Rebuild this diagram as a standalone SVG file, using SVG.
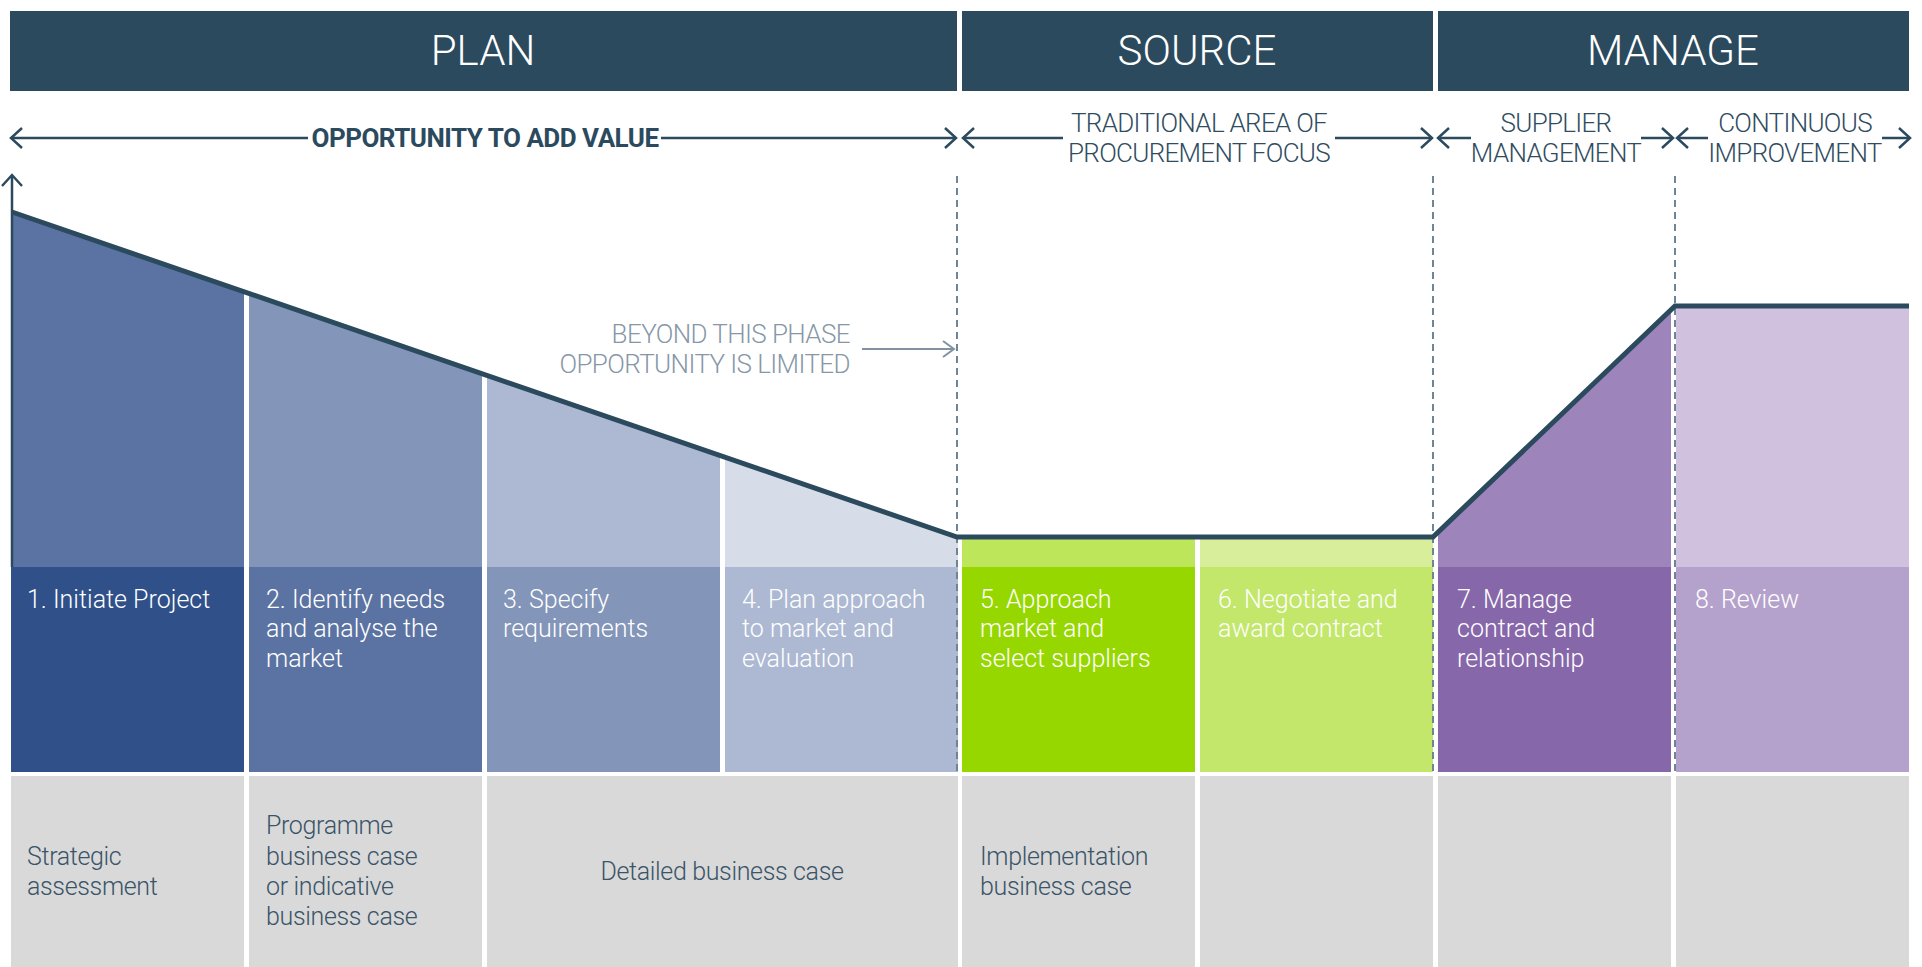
<svg xmlns="http://www.w3.org/2000/svg" width="1922" height="967" viewBox="0 0 1922 967">
<defs>
<style>
text{font-family:Roboto,"Liberation Sans",sans-serif;font-weight:300}
.banner{fill:#2b4a5e}
.bt{fill:#fff;font-size:42px;text-anchor:middle}
.lab{fill:#2f4c60;font-size:26px;text-anchor:middle;letter-spacing:-0.7px}
.labb{fill:#2b4a5e;font-size:26px;text-anchor:middle;font-weight:700;letter-spacing:-0.5px}
.step{fill:#fff;font-size:25px;letter-spacing:0px}
.case{fill:#3a5468;font-size:25px;letter-spacing:-0.35px}
.grey{fill:#d9d9d9}
.note{fill:#8797a7;font-size:26px;text-anchor:end;letter-spacing:-0.6px}
.ar{fill:none;stroke:#2b4a5e;stroke-width:2.5}
.dash{fill:none;stroke:#6f8596;stroke-width:2;stroke-dasharray:7 5}
.curve{fill:none;stroke:#2b4a5e;stroke-width:5;stroke-linejoin:miter}
</style>
<marker id="ah" viewBox="0 0 14 22" refX="12" refY="11" markerWidth="14" markerHeight="22" markerUnits="userSpaceOnUse" orient="auto-start-reverse">
<path d="M1,1 L12,11 L1,21" fill="none" stroke="#2b4a5e" stroke-width="2.5"/>
</marker>
<marker id="ahg" viewBox="0 0 14 22" refX="12" refY="11" markerWidth="14" markerHeight="22" markerUnits="userSpaceOnUse" orient="auto">
<path d="M1,3 L12,11 L1,19" fill="none" stroke="#8193a3" stroke-width="2"/>
</marker>
</defs>
<rect width="1922" height="967" fill="#fff"/>

<g id="phase-plan"><rect class="banner" x="10" y="11" width="947" height="80"/><text class="bt" x="483" y="65">PLAN</text></g>
<g id="phase-source"><rect class="banner" x="962" y="11" width="471" height="80"/><text class="bt" x="1197" y="65">SOURCE</text></g>
<g id="phase-manage"><rect class="banner" x="1438" y="11" width="471" height="80"/><text class="bt" x="1673" y="65">MANAGE</text></g>

<g id="area-labels">
<text class="labb" x="485" y="147">OPPORTUNITY TO ADD VALUE</text>
<text class="lab" x="1199" y="132">TRADITIONAL AREA OF</text>
<text class="lab" x="1199" y="162">PROCUREMENT FOCUS</text>
<text class="lab" x="1556" y="132">SUPPLIER</text>
<text class="lab" x="1556" y="162">MANAGEMENT</text>
<text class="lab" x="1795" y="132">CONTINUOUS</text>
<text class="lab" x="1795" y="162">IMPROVEMENT</text>
</g>

<g id="step-1">
<polygon points="11,211.7 244,291.8 244,567 11,567" fill="#5b73a2"/>
<rect x="11" y="567" width="233" height="205" fill="#30508a"/>
<text class="step" x="27" y="608">1. Initiate Project</text>
<rect class="grey" x="11" y="776" width="233" height="191"/>
<text class="case" x="27" y="865">Strategic</text>
<text class="case" x="27" y="895">assessment</text>
</g>
<g id="step-2">
<polygon points="249,293.5 482,373.7 482,567 249,567" fill="#8395b8"/>
<rect x="249" y="567" width="233" height="205" fill="#5b73a2"/>
<text class="step" x="266" y="608">2. Identify needs</text>
<text class="step" x="266" y="637">and analyse the</text>
<text class="step" x="266" y="667">market</text>
<rect class="grey" x="249" y="776" width="233" height="191"/>
<text class="case" x="266" y="834">Programme</text>
<text class="case" x="266" y="865">business case</text>
<text class="case" x="266" y="895">or indicative</text>
<text class="case" x="266" y="925">business case</text>
</g>
<g id="step-3">
<polygon points="487,375.4 720,455.6 720,567 487,567" fill="#adb9d2"/>
<rect x="487" y="567" width="233" height="205" fill="#8395b8"/>
<text class="step" x="503" y="608">3. Specify</text>
<text class="step" x="503" y="637">requirements</text>
</g>
<g id="step-4">
<polygon points="725,457.3 958,537.5 958,567 725,567" fill="#d6dde8"/>
<rect x="725" y="567" width="233" height="205" fill="#adb9d2"/>
<text class="step" x="742" y="608">4. Plan approach</text>
<text class="step" x="742" y="637">to market and</text>
<text class="step" x="742" y="667">evaluation</text>
</g>
<g id="case-detailed">
<rect class="grey" x="487" y="776" width="471" height="191"/>
<text class="case" x="722" y="880" text-anchor="middle">Detailed business case</text>
</g>
<g id="step-5">
<rect x="962" y="537" width="233" height="30" fill="#bee65a"/>
<rect x="962" y="567" width="233" height="205" fill="#97d700"/>
<text class="step" x="980" y="608">5. Approach</text>
<text class="step" x="980" y="637">market and</text>
<text class="step" x="980" y="667">select suppliers</text>
<rect class="grey" x="962" y="776" width="233" height="191"/>
<text class="case" x="980" y="865">Implementation</text>
<text class="case" x="980" y="895">business case</text>
</g>
<g id="step-6">
<rect x="1200" y="537" width="233" height="30" fill="#d8ee9b"/>
<rect x="1200" y="567" width="233" height="205" fill="#c2e76a"/>
<text class="step" x="1218" y="608">6. Negotiate and</text>
<text class="step" x="1218" y="637">award contract</text>
<rect class="grey" x="1200" y="776" width="233" height="191"/>
</g>
<g id="step-7">
<polygon points="1438,532.2 1671,309.8 1671,567 1438,567" fill="#9d85bb"/>
<rect x="1438" y="567" width="233" height="205" fill="#8667aa"/>
<text class="step" x="1457" y="608">7. Manage</text>
<text class="step" x="1457" y="637">contract and</text>
<text class="step" x="1457" y="667">relationship</text>
<rect class="grey" x="1438" y="776" width="233" height="191"/>
</g>
<g id="step-8">
<rect x="1676" y="306" width="233" height="261" fill="#d0c1de"/>
<rect x="1676" y="567" width="233" height="205" fill="#b4a2cc"/>
<text class="step" x="1695" y="608">8. Review</text>
<rect class="grey" x="1676" y="776" width="233" height="191"/>
</g>

<g id="note-limited">
<text class="note" x="850" y="343">BEYOND THIS PHASE</text>
<text class="note" x="850" y="373">OPPORTUNITY IS LIMITED</text>
</g>

<g id="connectors">
<line class="dash" x1="957" y1="176" x2="957" y2="772"/>
<line class="dash" x1="1433" y1="176" x2="1433" y2="772"/>
<line class="dash" x1="1675" y1="176" x2="1675" y2="772"/>
<polyline class="curve" points="12,212 957,537 1433,537 1675,306 1909,306"/>
<line class="ar" x1="12" y1="567" x2="12" y2="175" marker-end="url(#ah)"/>
<line class="ar" x1="11" y1="138" x2="308" y2="138" marker-start="url(#ah)"/>
<line class="ar" x1="661" y1="138" x2="956" y2="138" marker-end="url(#ah)"/>
<line class="ar" x1="963" y1="138" x2="1063" y2="138" marker-start="url(#ah)"/>
<line class="ar" x1="1335" y1="138" x2="1432" y2="138" marker-end="url(#ah)"/>
<line class="ar" x1="1438" y1="138" x2="1471" y2="138" marker-start="url(#ah)"/>
<line class="ar" x1="1641" y1="138" x2="1673" y2="138" marker-end="url(#ah)"/>
<line class="ar" x1="1677" y1="138" x2="1708" y2="138" marker-start="url(#ah)"/>
<line class="ar" x1="1882" y1="138" x2="1910" y2="138" marker-end="url(#ah)"/>
<line x1="862" y1="349" x2="954" y2="349" stroke="#8193a3" stroke-width="2" marker-end="url(#ahg)"/>
</g>
</svg>
